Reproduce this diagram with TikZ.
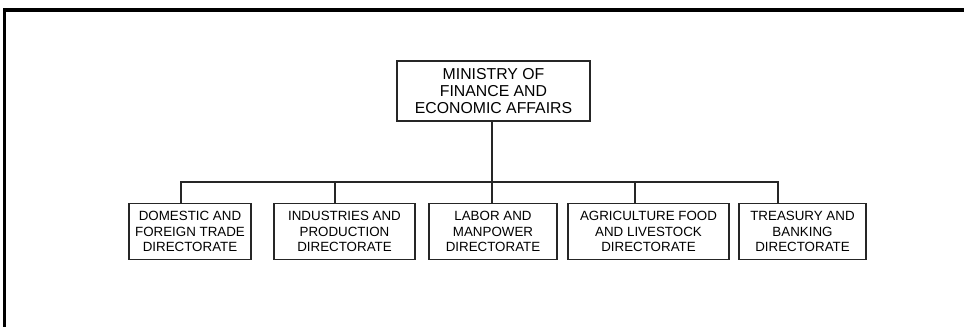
\documentclass[tikz,border=0pt]{standalone}
\usepackage{fontspec}
\setmainfont{Liberation Sans}
\usepackage{tikz}
\usetikzlibrary{calc}
\tikzstyle{ministry}=[draw=black!85,fill=white,line width=0.75pt,minimum width=3.86cm,minimum height=1.2cm,inner sep=0pt,align=center,font=\fontsize{9}{9.9}\selectfont]
\tikzstyle{directorate}=[draw=black!85,fill=white,line width=0.75pt,minimum height=1.13cm,inner sep=0pt,align=center,font=\fontsize{7.6}{8.9}\selectfont]
\tikzstyle{link} = [draw,black!85,line width=0.75pt]

\begin{document}
\begin{tikzpicture}[x=0.02cm, y=-0.02cm]

  \useasboundingbox (0,0) rectangle (964,327);

  % frame of the page
  \draw[line width=2.2pt] (4.5,340) -- (4.5,10) -- (980,10);

  \node[ministry] (min) at (493.5,91) {MINISTRY OF\\FINANCE AND\\ECONOMIC AFFAIRS};
  \coordinate (bus) at (492,182);

  \foreach \x/\w/\d/\name/\label in {190/122/-9/dom/{DOMESTIC AND\\FOREIGN TRADE\\DIRECTORATE},
      344.5/141/-9.5/ind/{INDUSTRIES AND\\PRODUCTION\\DIRECTORATE},
      493/128/-1/lab/{LABOR AND\\MANPOWER\\DIRECTORATE},
      648.5/161/-13.5/agr/{AGRICULTURE FOOD\\AND LIVESTOCK\\DIRECTORATE},
      802.5/127/-24.5/tre/{TREASURY AND\\BANKING\\DIRECTORATE}}
  {
     \node[directorate, minimum width=\w*0.02cm] (\name) at (\x,231.5) {\label};
     \draw[link] ($(\name.north)+(\d,0)$) |- (bus);
  }

  \draw[link] (min.south -| bus) -- (bus);

\end{tikzpicture}
\end{document}
